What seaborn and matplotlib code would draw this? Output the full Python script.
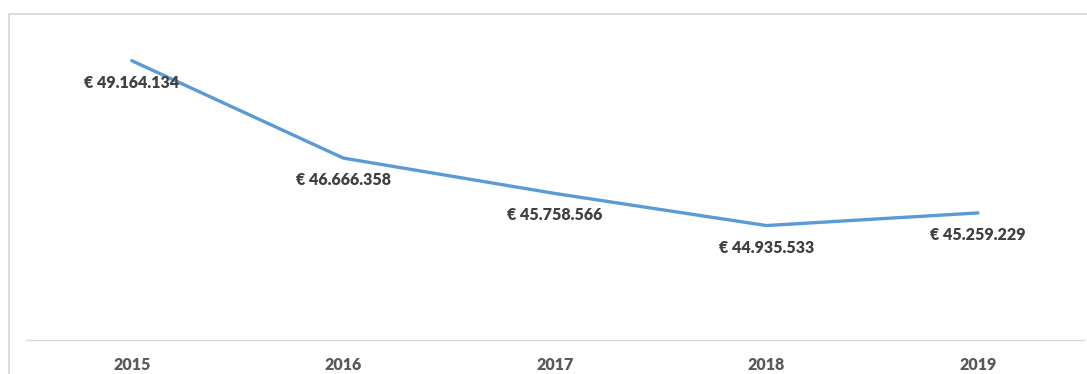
import matplotlib
matplotlib.use('Agg')
import matplotlib.pyplot as plt
import seaborn as sns
import pandas as pd
from matplotlib.lines import Line2D

jaren = ['2015', '2016', '2017', '2018', '2019']
bedragen = [49164134, 46666358, 45758566, 44935533, 45259229]
labels = ['€ 49.164.134', '€ 46.666.358', '€ 45.758.566', '€ 44.935.533', '€ 45.259.229']

df = pd.DataFrame({'jaar': jaren, 'bedrag': bedragen})
df['pos'] = range(len(df))

sns.set_theme(style='white')
plt.rcParams['font.family'] = ['Lato', 'DejaVu Sans']

fig = plt.figure(figsize=(10.87, 3.74), dpi=100)
ax = fig.add_axes([0.0239, 0.0909, 0.9731, 0.834])

# kader rond de grafiek (alleen boven en links zichtbaar)
kx = 8.5 / 1087
ky = 1 - 13.5 / 374
fig.lines.append(Line2D([kx, 1.0], [ky, ky], transform=fig.transFigure,
                        color='#d9d9d9', linewidth=1.3))
fig.lines.append(Line2D([kx, kx], [0, ky], transform=fig.transFigure,
                        color='#d9d9d9', linewidth=1.3))

sns.lineplot(data=df, x='pos', y='bedrag', ax=ax, color='#5b9bd5', linewidth=2.4)

for i, (v, t) in enumerate(zip(bedragen, labels)):
    ax.annotate(t, (i, v), xytext=(0, -22), textcoords='offset pixels',
                ha='center', va='center', fontsize=11.5, fontweight='heavy', color='#404040')

ax.set_xlim(-0.5, 4.5)
ax.set_ylim(42000000, 50000000)
ax.set_xticks(range(len(jaren)))
ax.set_xticklabels(jaren, fontsize=11.5, fontweight='heavy', color='#595959')
ax.set_yticks([])
ax.set_xlabel('')
ax.set_ylabel('')
ax.tick_params(axis='x', length=0, pad=12)
for s in ['top', 'left', 'right']:
    ax.spines[s].set_visible(False)
ax.spines['bottom'].set_color('#d9d9d9')
ax.spines['bottom'].set_linewidth(1)

fig.savefig('out.png', dpi=100)
